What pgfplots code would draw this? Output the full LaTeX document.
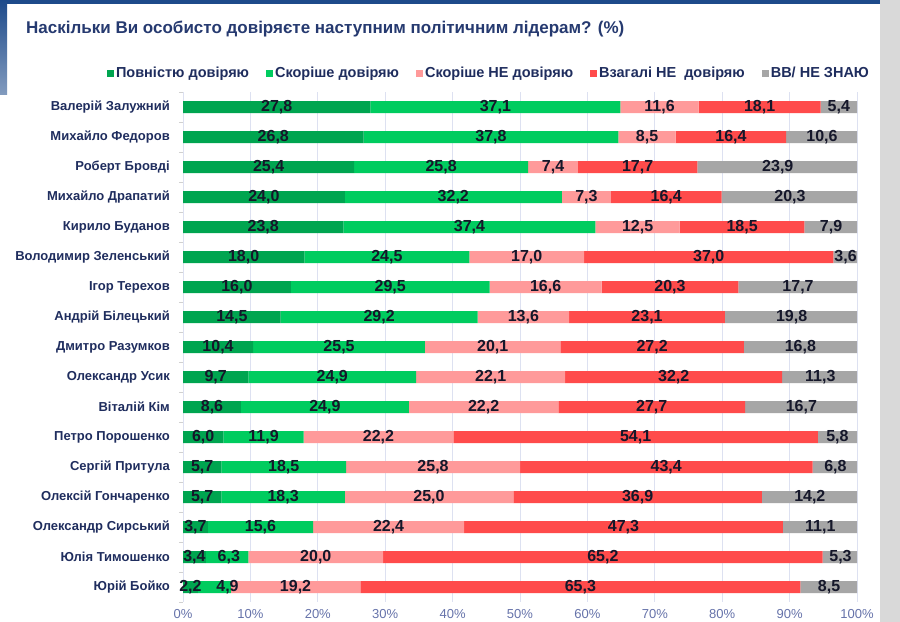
\documentclass[border=0pt]{standalone}
\usepackage{fontspec}
\setmainfont{Liberation Sans}
\usepackage{pgfplots}
\pgfplotsset{compat=1.18}
\usepackage{pgfplotstable}

\definecolor{cdg}{HTML}{00A550}
\definecolor{clg}{HTML}{00CC5F}
\definecolor{cpk}{HTML}{FF9A9A}
\definecolor{crd}{HTML}{FF4B4B}
\definecolor{cgy}{HTML}{A6A6A6}
\definecolor{navy}{HTML}{1F2D5E}
\definecolor{titlec}{HTML}{263A70}
\definecolor{labc}{HTML}{15172A}
\definecolor{ticklab}{HTML}{6673AA}
\definecolor{gridc}{HTML}{DDE1F1}
\definecolor{frameblue}{HTML}{1D4A8A}
\definecolor{sidegray}{HTML}{D9D9D9}

% idx, five shares (%), and label midpoints
\pgfplotstableread{
idx a b c d e ma mb mc md me
0 27.8 37.1 11.6 18.1 5.4 13.9 46.35 70.7 85.55 97.3
1 26.8 37.8 8.5 16.4 10.6 13.4 45.7 68.85 81.3 94.8
2 25.4 25.8 7.4 17.7 23.9 12.7 38.3 54.9 67.45 88.25
3 24.0 32.2 7.3 16.4 20.3 12.0 40.1 59.85 71.7 90.05
4 23.8 37.4 12.5 18.5 7.9 11.9 42.5 67.45 82.95 96.15
5 18.0 24.5 17.0 37.0 3.6 9.0 30.25 51.0 78.0 98.3
6 16.0 29.5 16.6 20.3 17.7 8.0 30.75 53.8 72.25 91.25
7 14.5 29.2 13.6 23.1 19.8 7.25 29.1 50.5 68.85 90.3
8 10.4 25.5 20.1 27.2 16.8 5.2 23.15 45.95 69.6 91.6
9 9.7 24.9 22.1 32.2 11.3 4.85 22.15 45.65 72.8 94.55
10 8.6 24.9 22.2 27.7 16.7 4.3 21.05 44.6 69.55 91.75
11 6.0 11.9 22.2 54.1 5.8 3.0 11.95 29.0 67.15 97.1
12 5.7 18.5 25.8 43.4 6.8 2.85 14.95 37.1 71.7 96.8
13 5.7 18.3 25.0 36.9 14.2 2.85 14.85 36.5 67.45 93.0
14 3.7 15.6 22.4 47.3 11.1 1.85 11.5 30.5 65.35 94.55
15 3.4 6.3 20.0 65.2 5.3 1.7 6.8 19.7 62.3 97.55
16 2.2 4.9 19.2 65.3 8.5 1.1 6.6 16.7 58.95 95.85
}\data

\begin{document}
\begin{tikzpicture}
\path[use as bounding box] (0,0) rectangle (900bp,622bp);
\fill[white] (0,0) rectangle (900bp,622bp);
\fill[sidegray] (880bp,0) rectangle (900bp,622bp);
\fill[frameblue] (0,618bp) rectangle (880bp,622bp);
\shade[top color=frameblue, bottom color=frameblue!55] (0,527bp) rectangle (7bp,622bp);
\node[anchor=base west, inner sep=0pt, text=titlec, font=\fontsize{17bp}{20bp}\selectfont\bfseries]
  at (26bp,588bp) {Наскільки Ви особисто довіряєте наступним політичним лідерам? (\%)};

\begin{axis}[
  at={(183bp,20bp)}, anchor=south west,
  scale only axis, width=674bp, height=510bp,
  xmin=0, xmax=100, ymin=-0.5, ymax=16.5, y dir=reverse,
  xbar stacked, bar width=12bp,
  axis line style={draw=none},
  xtick={0,10,...,100},
  xticklabels={0\%,10\%,20\%,30\%,40\%,50\%,60\%,70\%,80\%,90\%,100\%},
  xticklabel style={anchor=base, yshift=-16bp, text=ticklab, font=\fontsize{13bp}{15bp}\selectfont},
  xmajorgrids, grid style={gridc, line width=0.9bp},
  ytick={0,...,16},
  yticklabels={{Валерій Залужний},{Михайло Федоров},{Роберт Бровді},{Михайло Драпатий},{Кирило Буданов},{Володимир Зеленський},{Ігор Терехов},{Андрій Білецький},{Дмитро Разумков},{Олександр Усик},{Віталій Кім},{Петро Порошенко},{Сергій Притула},{Олексій Гончаренко},{Олександр Сирський},{Юлія Тимошенко},{Юрій Бойко}},
  yticklabel style={anchor=east, inner sep=0pt, xshift=-13bp, text=navy, font=\fontsize{13bp}{15bp}\selectfont\bfseries},
  minor ytick={-0.5,0.5,...,16.5},
  major tick length=0pt, minor tick length=4bp, tick align=outside, tick pos=left,
  minor tick style={draw=black!18, line width=0.8bp},
  legend style={at={(0.454,1.037)}, anchor=center, draw=none, fill=none,
    font=\fontsize{14.5bp}{17bp}\selectfont\bfseries, text=navy,
    inner sep=0pt, /tikz/every even column/.append style={column sep=15bp}},
  legend columns=-1,
  legend image code/.code={\fill[#1] (0bp,-3.5bp) rectangle (7bp,3.5bp);},
]
\addplot[fill=cdg, draw=none] table[x=a, y=idx]{\data};
\addplot[fill=clg, draw=none] table[x=b, y=idx]{\data};
\addplot[fill=cpk, draw=none] table[x=c, y=idx]{\data};
\addplot[fill=crd, draw=none] table[x=d, y=idx]{\data};
\addplot[fill=cgy, draw=none] table[x=e, y=idx]{\data};
\legend{Повністю довіряю, Скоріше довіряю, Скоріше НЕ довіряю, Взагалі НЕ\ \ довіряю, ВВ/ НЕ ЗНАЮ}
\end{axis}

\begin{axis}[
  at={(183bp,20bp)}, anchor=south west,
  scale only axis, width=674bp, height=510bp,
  xmin=0, xmax=100, ymin=-0.5, ymax=16.5, y dir=reverse,
  hide axis, clip=false,
  /pgf/number format/assume math mode=true,
  nodes near coords={\pgfmathprintnumber[fixed,fixed zerofill,precision=1,use comma]{\pgfplotspointmeta}},
  nodes near coords style={anchor=center, inner sep=0pt, text=labc, font=\fontsize{16bp}{18bp}\selectfont\bfseries},
]
\addplot[draw=none, mark=none, point meta=explicit] table[x=ma, y=idx, meta=a]{\data};
\addplot[draw=none, mark=none, point meta=explicit] table[x=mb, y=idx, meta=b]{\data};
\addplot[draw=none, mark=none, point meta=explicit] table[x=mc, y=idx, meta=c]{\data};
\addplot[draw=none, mark=none, point meta=explicit] table[x=md, y=idx, meta=d]{\data};
\addplot[draw=none, mark=none, point meta=explicit] table[x=me, y=idx, meta=e]{\data};
\end{axis}
\end{tikzpicture}
\end{document}
